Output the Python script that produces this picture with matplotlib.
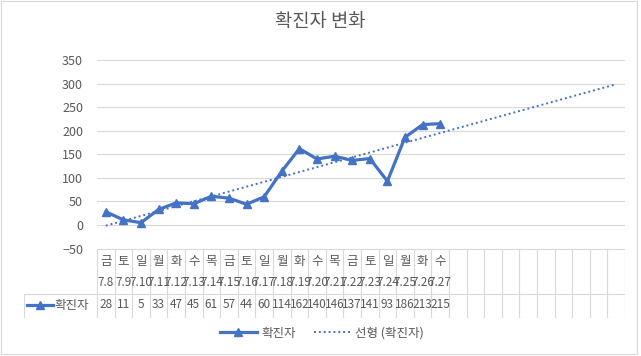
import numpy as np
import matplotlib.pyplot as plt
from matplotlib.lines import Line2D

plt.rcParams['font.family'] = ['Noto Sans CJK KR', 'DejaVu Sans']

# data
Weekdays = ['금', '토', '일', '월', '화', '수', '목', '금', '토', '일',
            '월', '화', '수', '목', '금', '토', '일', '월', '화', '수']
Dates = ['7.8', '7.9', '7.10', '7.11', '7.12', '7.13', '7.14', '7.15', '7.16', '7.17',
         '7.18', '7.19', '7.20', '7.21', '7.22', '7.23', '7.24', '7.25', '7.26', '7.27']
Cases = [28, 11, 5, 33, 47, 45, 61, 57, 44, 60,
         114, 162, 140, 146, 137, 141, 93, 186, 213, 215]
TotalCats = 30  # the category axis also holds 10 empty cells
SeriesName = '확진자'
TrendName = '선형 (확진자)'
Title = '확진자 변화'

LineColor = '#4472C4'
TextColor = '#595959'
GridColor = '#D9D9D9'

W, H = 641, 356
fig = plt.figure(figsize=(W / 100, H / 100), dpi=100)

def fx(px):
    return px / W

def fy(py):
    return 1 - py / H

# plot area
PlotL, PlotR, PlotT, PlotB = 97, 625, 60, 248.6
ax = fig.add_axes([fx(PlotL), fy(PlotB), fx(PlotR - PlotL), (PlotB - PlotT) / H])
xs = np.arange(1, len(Cases) + 1)
ax.plot(xs, Cases, color=LineColor, lw=2.3, marker='^', ms=5.5, zorder=3)

# linear trendline extended over the whole category axis
coef = np.polyfit(xs, Cases, 1)
xt = np.array([1, TotalCats])
ax.plot(xt, np.polyval(coef, xt), color=LineColor, lw=1.4, ls=(0, (1, 1.5)), zorder=2)

ax.set_xlim(0.5, TotalCats + 0.5)
ax.set_ylim(-50, 350)
ax.set_yticks(np.arange(-50, 351, 50))
ax.set_xticks([])
ax.tick_params(axis='y', length=0, labelsize=9, labelcolor=TextColor, pad=10)
ax.grid(axis='y', color=GridColor, lw=0.8)
for s in ax.spines.values():
    s.set_visible(False)

# data table under the plot
TabL, TabT, TabM, TabB = 24, 249, 294, 318
CatW = (PlotR - PlotL) / TotalCats
tab = fig.add_axes([fx(TabL), fy(TabB), fx(PlotR - TabL), (TabB - TabT) / H])
tab.set_xlim(0.5 - (PlotL - TabL) / CatW, TotalCats + 0.5)
tab.set_ylim(TabB, TabT)
tab.axis('off')
lk = dict(color=GridColor, lw=0.8)
tab.plot([0.5, TotalCats + 0.5], [TabT, TabT], **lk)
tab.plot([0.5 - (PlotL - TabL) / CatW, TotalCats + 0.5], [TabM, TabM], **lk)
tab.plot([0.5 - (PlotL - TabL) / CatW, TotalCats + 0.5], [TabB, TabB], **lk)
for i in range(TotalCats + 1):
    tab.plot([i + 0.5, i + 0.5], [TabT, TabB], **lk)
tab.plot([0.5 - (PlotL - TabL) / CatW] * 2, [TabM, TabB], **lk)

for i, (wd, dt, v) in enumerate(zip(Weekdays, Dates, Cases)):
    x = i + 1
    tab.text(x, 261, wd, ha='center', va='center', fontsize=9, color=TextColor)
    tab.text(x, 282, dt, ha='center', va='center', fontsize=8.5, color=TextColor)
    tab.text(x, 305, str(v), ha='center', va='center', fontsize=8.5, color=TextColor)

# legend key inside the table
k0 = 0.5 - (PlotL - TabL) / CatW
tab.plot([k0 + 3 / CatW, k0 + 29 / CatW], [305, 305], color=LineColor, lw=2.3)
tab.plot([k0 + 16 / CatW], [305], color=LineColor, marker='^', ms=5.5)
tab.text(k0 + 30 / CatW, 305, SeriesName, ha='left', va='center', fontsize=9, color=TextColor)

# title
fig.text(0.5, fy(22), Title, ha='center', va='center', fontsize=13.5, color=TextColor)

# bottom legend
handles = [Line2D([], [], color=LineColor, lw=2.3, marker='^', ms=5.5),
           Line2D([], [], color=LineColor, lw=1.4, ls=(0, (1, 1.5)))]
fig.legend(handles, [SeriesName, TrendName], loc='center', bbox_to_anchor=(fx(322), fy(333)),
           ncol=2, frameon=False, fontsize=9, labelcolor=TextColor, handlelength=3,
           handletextpad=0.3, columnspacing=1.5)

# chart border
fig.patches.append(plt.Rectangle((fx(1), fy(354)), fx(636), (353) / H, transform=fig.transFigure,
                                 fill=False, edgecolor=GridColor, lw=0.8))

fig.savefig('out.png', dpi=100, facecolor='white')
